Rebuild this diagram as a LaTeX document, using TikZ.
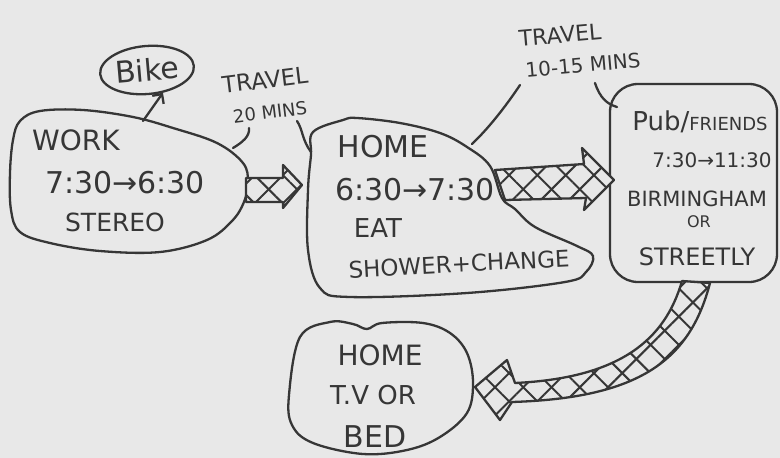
\documentclass[tikz,border=0pt]{standalone}
\usepackage{fontspec}
\setmainfont{DejaVu Sans}
\usetikzlibrary{patterns.meta,arrows.meta,shapes.geometric}
\definecolor{ink}{HTML}{363636}
\definecolor{paper}{HTML}{E8E8E8}
\begin{document}
\begin{tikzpicture}[x=1pt,y=-1pt,
  line/.style={draw=ink,line width=2.3pt,line join=round,line cap=round},
  txt/.style={text=ink,inner sep=0pt,font=\fontsize{#1}{#1}\selectfont},
  hatchA/.style={pattern={Lines[angle=45,distance=20pt,line width=2pt]},pattern color=ink},
  hatchB/.style={pattern={Lines[angle=-45,distance=20pt,line width=2pt]},pattern color=ink},
  blockarrow/.style={fill=ink!12,postaction={hatchA},postaction={hatchB},postaction={line}}]
\fill[paper] (0,0) rectangle (780,458);
\useasboundingbox (0,0) rectangle (780,458);

% blobs
\draw[line] plot[smooth cycle, tension=0.6] coordinates {(13,140) (20,121) (40,111) (83,110) (133,117) (173,128) (217,143) (243,163) (248,182) (244,202) (232,221) (207,240) (160,252) (100,251) (50,243) (20,232) (11,210) (10,173)};
\draw[line] plot[smooth cycle, tension=0.6] coordinates {(313,132) (343,120) (357,118) (400,123) (440,133) (467,147) (490,166) (502,198) (515,209) (535,227) (577,246) (593,256) (586,272) (565,282) (467,293) (350,297) (320,288) (308,250) (308,190) (311,155)};
\draw[line] plot[smooth cycle, tension=0.6] coordinates {(300,337) (330,322) (353,324) (367,329) (382,323) (423,323) (450,333) (467,353) (473,383) (467,413) (440,437) (407,450) (363,454) (313,443) (292,425) (289,395)};
\node[line, rounded corners=28pt, minimum width=167pt, minimum height=198pt, inner sep=0pt] (pub) at (693.5,183) {};
\node[line, ellipse, minimum width=94pt, minimum height=48pt, rotate=5, txt=30] (bike) at (147,70) {Bike};

% bike arrow
\coordinate (wb) at (143,121);
\draw[line,-{Straight Barb[length=7pt,width=14pt]}] (wb) -- (bike.300);

% travel connectors
\coordinate (w1) at (233,148);
\coordinate (t1a) at (249,128);
\draw[line] (w1) .. controls (243,142) and (250,136) .. (t1a);
\coordinate (t1b) at (297,121);
\coordinate (h1) at (311,152);
\draw[line] (t1b) .. controls (303,130) and (302,140) .. (h1);
\coordinate (h2) at (472,144);
\coordinate (t2a) at (520,85);
\draw[line] (h2) .. controls (492,125) and (510,100) .. (t2a);
\coordinate (t2b) at (595,83);
\coordinate (p1) at (617,107);
\draw[line] (t2b) .. controls (600,98) and (607,104) .. (p1);

% block arrows
\path[blockarrow] (246,178) -- (283,178) -- (283,165) -- (302,185) -- (283,208) -- (283,202) -- (246,202) -- cycle;
\path[blockarrow] (495,170) -- (584,164) -- (582,148) -- (614,180) -- (584,210) -- (586,198) -- (505,200) -- cycle;
\path[blockarrow] (682,281) .. controls (665,340) and (620,378) .. (515,383) -- (507,360) -- (475,387) -- (500,420) -- (512,402) .. controls (640,398) and (690,360) .. (710,283) -- cycle;

% labels
\node[txt=23, rotate=7] (trav1) at (265,80) {TRAVEL};
\node[txt=18, rotate=7] (min1) at (270,112) {20 MINS};
\node[txt=22, rotate=5] (trav2) at (560,35) {TRAVEL};
\node[txt=20, rotate=5] (min2) at (583,65) {10-15 MINS};

\node[txt=28] (workT) at (76,140) {WORK};
\node[txt=30] (wt) at (125,183) {7:30→6:30};
\node[txt=25] (stereo) at (115,222) {STEREO};

\node[txt=30] (homeT) at (383,147) {HOME};
\node[txt=30] (ht) at (415,190) {6:30→7:30};
\node[txt=26] (eat) at (378,228) {EAT};
\node[txt=23, rotate=3] (shower) at (459,264) {SHOWER+CHANGE};

\node[txt=26] (pubT) at (700,122) {Pub/\fontsize{18}{18}\selectfont FRIENDS};
\node[txt=20] (pt) at (712,160) {7:30→11:30};
\node[txt=21] (birm) at (697,199) {BIRMINGHAM};
\node[txt=16] (or1) at (699,222) {OR};
\node[txt=24] (streetly) at (697,257) {STREETLY};

\node[txt=28] (home2T) at (380,355) {HOME};
\node[txt=26] (tv) at (373,395) {T.V OR};
\node[txt=30] (bed) at (375,437) {BED};
\end{tikzpicture}
\end{document}
